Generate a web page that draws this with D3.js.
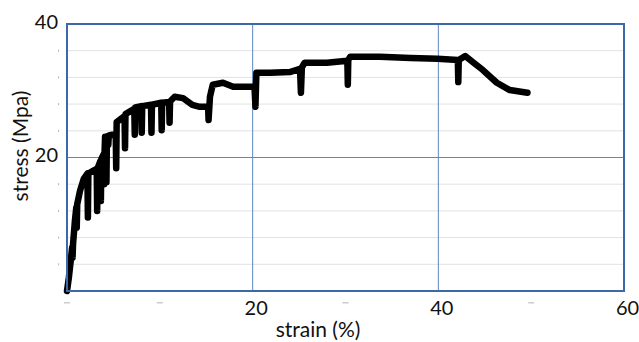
<!DOCTYPE html>
<html>
<head>
<meta charset="utf-8">
<script src="https://cdn.jsdelivr.net/npm/d3@7"></script>
<style>
  body { margin: 0; background: #fff; }
  text { font-family: Lato, "Open Sans", sans-serif; fill: #111; }
</style>
</head>
<body>
<div id="chart"></div>
<script>
// data
const strain = [0, 0.2, 0.4, 0.55, 0.6, 0.65, 0.85, 1.0, 1.05, 1.1, 1.4, 1.8, 2.2, 2.25, 2.3, 2.8, 3.2, 3.25, 3.3,
  3.6, 3.65, 3.7, 3.95, 4.0, 4.05, 4.1, 4.2, 4.25, 4.3, 4.4, 4.45, 4.5, 4.85, 5.25, 5.3, 5.35,
  6.2, 6.25, 6.3, 7.25, 7.3, 7.35, 8.0, 8.05, 8.1, 9.05, 9.1, 9.15, 10.15, 10.2, 10.25, 11.0, 11.05, 11.1,
  11.6, 12.5, 13.5, 14.3, 15.2, 15.25, 15.4, 15.7, 16.8, 17.9, 19.0, 20.2, 20.3, 20.4, 21.9, 24.0, 25.1, 25.2, 25.3,
  25.6, 28.0, 30.2, 30.25, 30.3, 30.5, 33.7, 37.0, 39.9, 42.1, 42.15, 42.2, 42.9, 43.7, 44.8, 46.3, 47.7, 49.6];
const stress = [0, 2, 4.5, 6.5, 5, 7, 10.5, 12.5, 9.5, 13, 15, 16.8, 17.6, 11, 17.6, 18, 18.3, 12, 18.4,
  19.5, 13.5, 19.8, 20.5, 16, 21, 23.1, 23.1, 16.3, 23.1, 23.1, 21.9, 23.3, 23.4, 23.4, 18.4, 25.3,
  26.2, 21.4, 26.5, 27.3, 23.4, 27.5, 27.7, 23.7, 27.7, 27.9, 23.7, 27.9, 28.2, 24.1, 28.2, 28.3, 25.2, 28.4,
  29.1, 28.9, 27.9, 27.6, 27.6, 25.6, 29.1, 30.9, 31.2, 30.6, 30.6, 30.6, 27.6, 32.7, 32.7, 32.8, 33.3, 29.7, 33.5,
  34.2, 34.2, 34.5, 30.9, 34.6, 35.1, 35.1, 34.9, 34.8, 34.6, 31.3, 34.6, 35.2, 34.3, 33.1, 31.2, 30.1, 29.7];

const xTickLabels = [20, 40, 60];
const yTickLabels = [20, 40];
const yGrid = [4, 8, 12, 16, 24, 28, 32, 36];
const xBlue = [20, 40];
const yBlue = [20];
const xFaint = [0, 10, 30, 50];

const svgWidth = 639;
const svgHeight = 342;
const margin = { top: 24, right: 15, bottom: 51, left: 67 };
const width = svgWidth - margin.left - margin.right;
const height = svgHeight - margin.top - margin.bottom;

const svg = d3.select('#chart')
  .append('svg')
  .attr('width', svgWidth)
  .attr('height', svgHeight);

const g = svg.append('g')
  .attr('transform', `translate(${margin.left},${margin.top})`);

const x = d3.scaleLinear().domain([0, 60]).range([0, width]);
const y = d3.scaleLinear().domain([0, 40]).range([height, 0]);

// light grid
g.append('g')
  .selectAll('line')
  .data(yGrid)
  .join('line')
  .attr('x1', 0).attr('x2', width)
  .attr('y1', d => y(d)).attr('y2', d => y(d))
  .attr('stroke', '#e2e2e2')
  .attr('stroke-width', 1);

// faint leftover marks next to the axes
g.append('g')
  .selectAll('rect')
  .data(yGrid)
  .join('rect')
  .attr('x', -9).attr('y', d => y(d) - 1)
  .attr('width', 1.2).attr('height', 2)
  .attr('fill', '#bbb');
g.append('g')
  .selectAll('rect')
  .data(xFaint)
  .join('rect')
  .attr('x', d => x(d) - 3).attr('y', height + 11)
  .attr('width', 6).attr('height', 1.5)
  .attr('fill', '#ccc');

// blue grid lines
g.append('g')
  .selectAll('line')
  .data(xBlue)
  .join('line')
  .attr('x1', d => x(d)).attr('x2', d => x(d))
  .attr('y1', 0).attr('y2', height)
  .attr('stroke', '#5a87c6')
  .attr('stroke-width', 1);
g.append('g')
  .selectAll('line')
  .data(yBlue)
  .join('line')
  .attr('x1', 0).attr('x2', width)
  .attr('y1', d => y(d)).attr('y2', d => y(d))
  .attr('stroke', '#5a87c6')
  .attr('stroke-width', 1);

// curve
const line = d3.line()
  .x(d => x(d[0]))
  .y(d => y(d[1]));
g.append('path')
  .datum(d3.zip(strain, stress))
  .attr('d', line)
  .attr('fill', 'none')
  .attr('stroke', '#000')
  .attr('stroke-width', 6.5)
  .attr('stroke-linejoin', 'round')
  .attr('stroke-linecap', 'round');

// frame
g.append('rect')
  .attr('x', 0).attr('y', 0)
  .attr('width', width).attr('height', height)
  .attr('fill', 'none')
  .attr('stroke', '#3d69a8')
  .attr('stroke-width', 2);

// axes (labels only)
const xAxis = g.append('g')
  .attr('transform', `translate(0,${height})`)
  .call(d3.axisBottom(x).tickValues(xTickLabels).tickSize(0).tickPadding(0));
xAxis.select('.domain').remove();
xAxis.selectAll('text')
  .attr('y', 24)
  .attr('dy', 0)
  .attr('dx', 3)
  .style('font-size', '20px')
  .style('font-family', 'Lato, "Open Sans", sans-serif')
  .attr('fill', '#111');

const yAxis = g.append('g')
  .call(d3.axisLeft(y).tickValues(yTickLabels).tickSize(0).tickPadding(9));
yAxis.select('.domain').remove();
yAxis.selectAll('text')
  .attr('dy', '0.2em')
  .style('font-size', '20px')
  .style('font-family', 'Lato, "Open Sans", sans-serif')
  .attr('fill', '#111');

// axis titles
svg.append('text')
  .attr('x', 318)
  .attr('y', 337)
  .attr('text-anchor', 'middle')
  .style('font-size', '21px')
  .text('strain (%)');

svg.append('text')
  .attr('transform', 'rotate(-90)')
  .attr('x', -146)
  .attr('y', 28)
  .attr('text-anchor', 'middle')
  .style('font-size', '21px')
  .text('stress (Mpa)');
</script>
</body>
</html>
